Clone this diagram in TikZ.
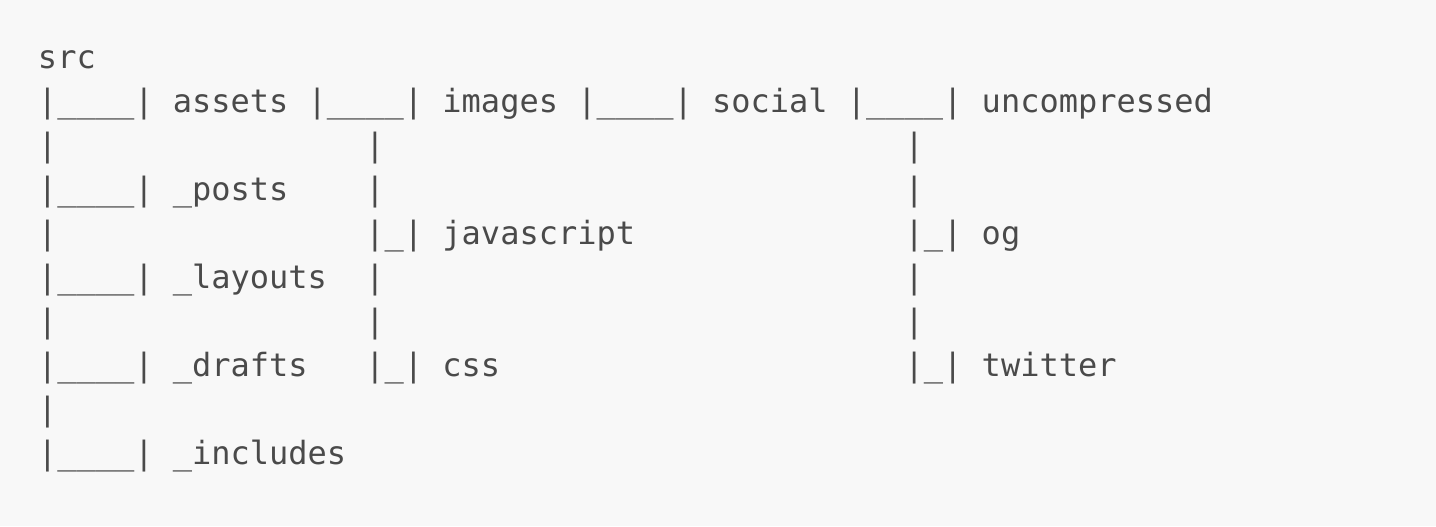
\documentclass[tikz,border=0pt]{standalone}
\usepackage{fontspec}
\newfontfamily\treefont{DejaVu Sans Mono}
\definecolor{codebg}{HTML}{F8F8F8}
\definecolor{codetext}{HTML}{4A4A4A}
\tikzset{
	item/.style={anchor=base west, inner sep=0pt, outer sep=0pt, text=codetext,
		font=\treefont\fontsize{16pt}{22pt}\selectfont},
}
\begin{document}
\begin{tikzpicture}[x=9.63pt, y=-22pt]
	\fill[codebg] (-19pt,34pt) rectangle (699pt,-229pt);
	\useasboundingbox (-19pt,34pt) rectangle (699pt,-229pt);
	
	\node[item] (src) at (0,0) {src};
	% first row
	\node[item] (l1a) at (0,1) {|\_\_\_\_|};
	\node[item] (assets) at (7,1) {assets};
	\node[item] (l1b) at (14,1) {|\_\_\_\_|};
	\node[item] (images) at (21,1) {images};
	\node[item] (l1c) at (28,1) {|\_\_\_\_|};
	\node[item] (social) at (35,1) {social};
	\node[item] (l1d) at (42,1) {|\_\_\_\_|};
	\node[item] (uncompressed) at (49,1) {uncompressed};
	
	% branches on the left
	\node[item] (l3) at (0,3) {|\_\_\_\_|};
	\node[item] (posts) at (7,3) {\_posts};
	\node[item] (l5) at (0,5) {|\_\_\_\_|};
	\node[item] (layouts) at (7,5) {\_layouts};
	\node[item] (l7) at (0,7) {|\_\_\_\_|};
	\node[item] (drafts) at (7,7) {\_drafts};
	\node[item] (l9) at (0,9) {|\_\_\_\_|};
	\node[item] (includes) at (7,9) {\_includes};
	
	% under images and uncompressed
	\node[item] (k4a) at (17,4) {|\_|};
	\node[item] (javascript) at (21,4) {javascript};
	\node[item] (k7a) at (17,7) {|\_|};
	\node[item] (css) at (21,7) {css};
	\node[item] (k4b) at (45,4) {|\_|};
	\node[item] (og) at (49,4) {og};
	\node[item] (k7b) at (45,7) {|\_|};
	\node[item] (twitter) at (49,7) {twitter};
	
	\foreach \c/\r in {0/2, 17/2, 45/2, 17/3, 45/3, 0/4, 17/5, 45/5, 0/6, 17/6, 45/6, 0/8} {
		\node[item] (p\c-\r) at (\c,\r) {|};
	}
\end{tikzpicture}
\end{document}
